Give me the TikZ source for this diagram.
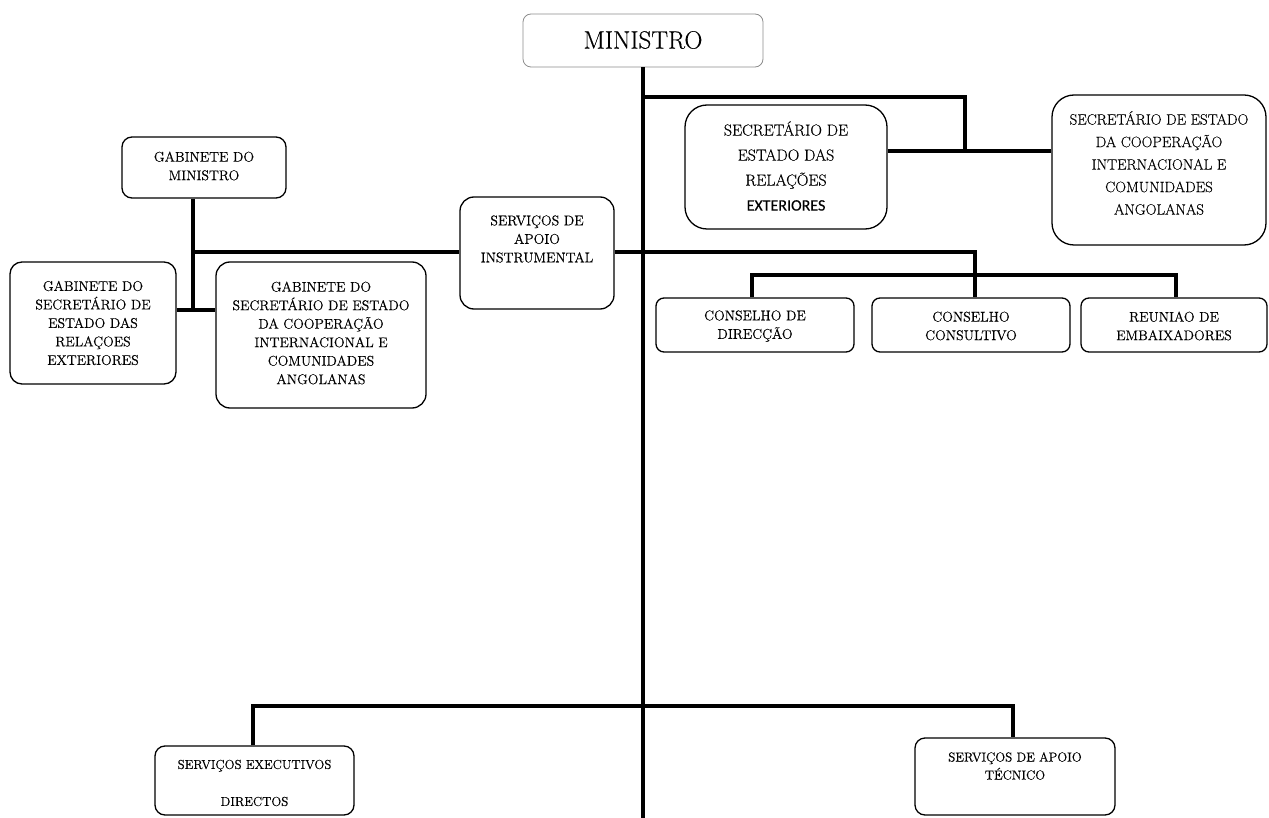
\documentclass[tikz,border=0pt]{standalone}
\usepackage{fontspec}
\setmainfont{Latin Modern Roman}[FakeBold=0.35]
\newfontfamily\calibrifont{Carlito}[FakeBold=0.3]
\begin{document}
\begin{tikzpicture}[x=1pt,y=-1pt,
  box/.style={draw, line width=1.3pt, rounded corners=10pt, inner sep=0pt},
  bigbox/.style={box, rounded corners=22pt},
  bus/.style={line width=4.5pt},
  lbl/.style={align=center, inner sep=0pt, font=\fontsize{14}{18.5}\selectfont},
  lblbig/.style={align=center, inner sep=0pt}]
\useasboundingbox (0,0) rectangle (1269,818);
% boxes
\node[box, draw=black!45, line width=0.8pt, rounded corners=8pt, minimum width=240pt, minimum height=53pt] (min) at (643,40.5) {};
\node[bigbox, minimum width=202pt, minimum height=124pt] (sre) at (786,167) {};
\node[bigbox, minimum width=214pt, minimum height=150pt] (scic) at (1159,170) {};
\node[box, minimum width=164pt, minimum height=61pt] (gdm) at (204,167.5) {};
\node[box, rounded corners=12pt, minimum width=166pt, minimum height=122pt] (gsre) at (93,323) {};
\node[box, rounded corners=14pt, minimum width=210pt, minimum height=146pt] (gscic) at (321,335) {};
\node[box, rounded corners=14pt, minimum width=154pt, minimum height=112pt] (sai) at (537,253) {};
\node[box, rounded corners=8pt, minimum width=198pt, minimum height=54pt] (cd) at (755,325) {};
\node[box, rounded corners=8pt, minimum width=198pt, minimum height=54pt] (cc) at (971,325) {};
\node[box, rounded corners=8pt, minimum width=186pt, minimum height=54pt] (re) at (1174,325) {};
\node[box, minimum width=199pt, minimum height=69pt] (sed) at (254.5,780.5) {};
\node[box, minimum width=200pt, minimum height=77pt] (sat) at (1015,776.5) {};
% labels
\node[lblbig, font=\fontsize{25}{28}\selectfont] (minT) at (643,40) {MINISTRO};
\node[lblbig, font=\fontsize{16}{25}\selectfont] (sreT) at (786,166) {SECRETÁRIO DE\\ESTADO DAS\\RELAÇÕES\\{\calibrifont\fontsize{16}{25}\selectfont EXTERIORES}};
\node[lblbig, font=\fontsize{15}{22.5}\selectfont] (scicT) at (1159,163) {SECRETÁRIO DE ESTADO\\DA COOPERAÇÃO\\INTERNACIONAL E\\COMUNIDADES\\ANGOLANAS};
\node[lbl] (gdmT) at (204,166) {GABINETE DO\\MINISTRO};
\node[lbl] (gsreT) at (93,323) {GABINETE DO\\SECRETÁRIO DE\\ESTADO DAS\\RELAÇOES\\EXTERIORES};
\node[lbl] (gscicT) at (321,333) {GABINETE DO\\SECRETÁRIO DE ESTADO\\DA COOPERAÇÃO\\INTERNACIONAL E\\COMUNIDADES\\ANGOLANAS};
\node[lbl] (saiT) at (537,239) {SERVIÇOS DE\\APOIO\\INSTRUMENTAL};
\node[lbl] (cdT) at (755,326) {CONSELHO DE\\DIRECÇÃO};
\node[lbl] (ccT) at (971,326) {CONSELHO\\CONSULTIVO};
\node[lbl] (reT) at (1174,326) {REUNIAO DE\\EMBAIXADORES};
\node[lbl, font=\fontsize{13}{37}\selectfont] (sedT) at (254.5,783) {SERVIÇOS EXECUTIVOS\\DIRECTOS};
\node[lbl, font=\fontsize{13}{18}\selectfont] (satT) at (1015,766) {SERVIÇOS DE APOIO\\TÉCNICO};
% coordinates
\coordinate (mbot) at (643,818);
\coordinate (tb1) at (643,97);
\coordinate (tj) at (965,151);
\coordinate (lj) at (193,310);
\coordinate (hb) at (193,252);
\coordinate (cj) at (975,252);
\coordinate (sb) at (752,275);
\coordinate (rb) at (1176,275);
\coordinate (bb1) at (253,706);
\coordinate (bb2) at (1013,706);
% connectors
\draw[bus] (min.south) -- (mbot);
\draw[bus] (tb1) -| (tj);
\draw[bus] (sre.east |- tj) -- (scic.west |- tj);
\draw[bus] (lj |- gdm.south) -- (lj);
\draw[bus] (gsre.east |- lj) -- (gscic.west |- lj);
\draw[bus] (hb) -- (sai.west |- hb);
\draw[bus] (sai.east |- hb) -- (cj) -- (cj |- cc.north);
\draw[bus] (sb |- cd.north) -- (sb) -- (rb) -- (rb |- re.north);
\draw[bus] (bb1 |- sed.north) -- (bb1) -- (bb2) -- (bb2 |- sat.north);
\end{tikzpicture}
\end{document}
